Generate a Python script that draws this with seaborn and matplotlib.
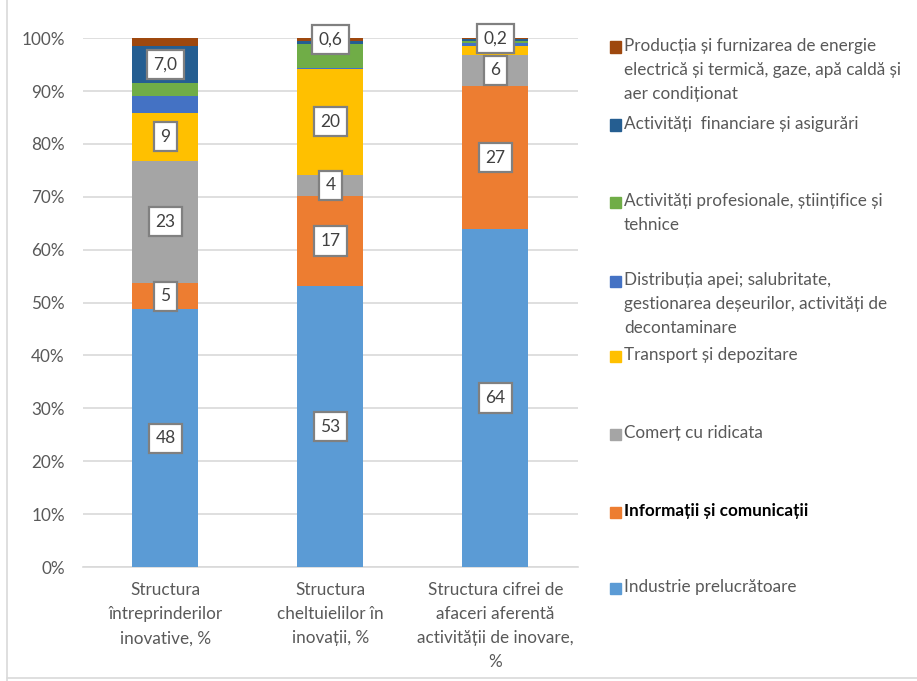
import matplotlib
matplotlib.use("Agg")
import matplotlib.pyplot as plt
from matplotlib.patches import Rectangle
from matplotlib.lines import Line2D
import numpy as np
import pandas as pd
import seaborn as sns

# Categories (x axis)
categories = [
    "Structura\nîntreprinderilor\ninovative, %",
    "Structura\ncheltuielilor în\ninovații, %",
    "Structura cifrei de\nafaceri aferentă\nactivității de inovare,\n%",
]

# Series, bottom of the stack first
series = [
    "Industrie prelucrătoare",
    "Informații și comunicații",
    "Comerț cu ridicata",
    "Transport și depozitare",
    "Distribuția apei; salubritate,\ngestionarea deșeurilor, activități de\ndecontaminare",
    "Activități profesionale, științifice și\ntehnice",
    "Activități  financiare și asigurări",
    "Producția și furnizarea de energie\nelectrică și termică, gaze, apă caldă și\naer condiționat",
]

industrie = [48.4, 53, 64]
informatii = [5, 17, 27]
comert = [23, 4, 6]
transport = [9, 20, 1.7]
distributia = [3.2, 0.2, 0.4]
profesionale = [2.3, 4.5, 0.4]
financiare = [7.0, 0.5, 0.4]
productia = [1.5, 0.6, 0.2]

values = [industrie, informatii, comert, transport,
          distributia, profesionale, financiare, productia]

# Which segments carry a data label, and with how many decimals
label_decimals = [
    [0, 0, 0],
    [0, 0, 0],
    [0, 0, 0],
    [0, 0, None],
    [None, None, None],
    [None, None, None],
    [1, None, None],
    [None, 1, 1],
]

colors = ["#5B9BD5", "#ED7D31", "#A5A5A5", "#FFC000",
          "#4472C4", "#70AD47", "#255E91", "#9E480E"]

# Long table, normalised to 100 % per category
rows = []
for s, vals in zip(series, values):
    for c, v in zip(categories, vals):
        rows.append({"category": c, "series": s, "value": v})
df = pd.DataFrame(rows)
df["share"] = df["value"] / df.groupby("category")["value"].transform("sum")
df["bottom"] = df.groupby("category")["share"].cumsum() - df["share"]

FONT = ["Lato", "DejaVu Sans"]
sns.set_theme(style="white")
plt.rcParams["font.family"] = FONT

fig = plt.figure(figsize=(9.17, 6.81), dpi=100)
ax = fig.add_axes([0.0905, 0.1674, 0.5395, 0.7766])

for s, col in zip(series, colors):
    sub = df[df["series"] == s]
    sns.barplot(data=sub, x="category", y="share", order=categories,
                bottom=sub["bottom"].to_numpy(), color=col, width=0.4,
                linewidth=0, saturation=1, ax=ax, zorder=3)

ax.set_ylim(0, 1)
ax.set_xlim(-0.5, 2.5)
ax.set_yticks(np.linspace(0, 1, 11))
ax.set_yticklabels([f"{int(round(t * 100))}%" for t in np.linspace(0, 1, 11)])
ax.yaxis.grid(True, color="#D9D9D9", linewidth=1.2, zorder=0)
ax.set_axisbelow(True)
for side in ["left", "right", "top"]:
    ax.spines[side].set_visible(False)
ax.spines["bottom"].set_color("#D9D9D9")
ax.spines["bottom"].set_linewidth(1.2)
ax.tick_params(axis="both", length=0, labelsize=12.3, colors="#595959")
ax.tick_params(axis="y", pad=13)
ax.tick_params(axis="x", pad=11)
ax.set_xticklabels(categories, linespacing=1.62)
ax.set_xlabel("")
ax.set_ylabel("")

# Data labels in white boxes
for si, s in enumerate(series):
    sub = df[df["series"] == s].set_index("category")
    for ci, c in enumerate(categories):
        dec = label_decimals[si][ci]
        if dec is None:
            continue
        v = sub.loc[c, "value"]
        txt = f"{v:.{dec}f}".replace(".", ",")
        yc = sub.loc[c, "bottom"] + sub.loc[c, "share"] / 2
        ax.text(ci, yc, txt, ha="center", va="center", fontsize=12.5,
                color="#404040", zorder=6, clip_on=False,
                bbox=dict(boxstyle="square,pad=0.38", fc="white",
                          ec="#808080", lw=1.6))

# Legend drawn as a column of swatches with wrapped names
W, H = 917, 681
legend_y = [47, 125, 202, 281, 356, 434, 512, 588]
for k, (s, col) in enumerate(zip(series[::-1], colors[::-1])):
    y = legend_y[k]
    fig.patches.append(Rectangle((610 / W, 1 - (y + 5.5) / H), 11 / W, 11 / H,
                                 transform=fig.transFigure, color=col))
    bold = s.startswith("Informații")
    fig.text(624 / W, 1 - (y - 9) / H, s, ha="left", va="top",
             fontsize=12.3, linespacing=1.62,
             color="black" if bold else "#595959",
             fontweight="bold" if bold else "normal")

# Chart frame
fig.add_artist(Line2D([7 / W, 7 / W], [0, 1], color="#D9D9D9", lw=1.2,
                      transform=fig.transFigure))
fig.add_artist(Line2D([7 / W, 1], [1 - 678 / H, 1 - 678 / H], color="#D9D9D9",
                      lw=1.2, transform=fig.transFigure))

fig.savefig("out.png", dpi=100, facecolor="white")
